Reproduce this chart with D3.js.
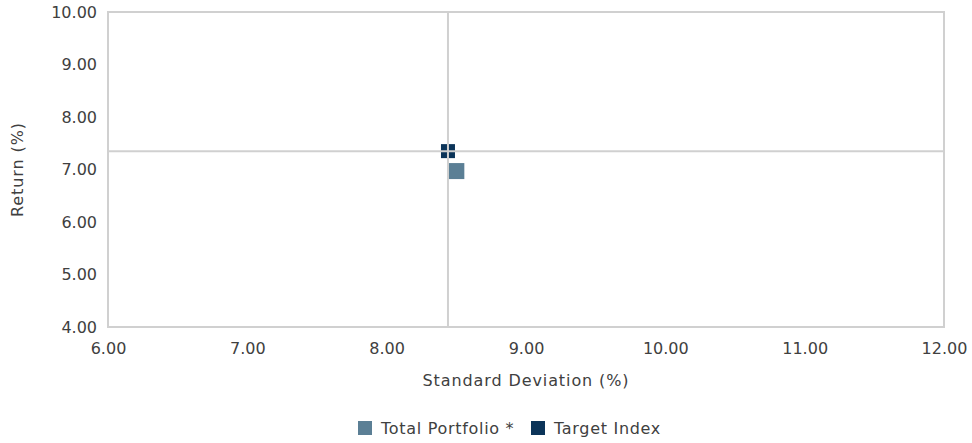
<!DOCTYPE html>
<html><head><meta charset="utf-8">
<script src="https://cdn.jsdelivr.net/npm/d3@7"></script>
<style>body{margin:0;background:#fff;}svg{display:block;font-family:"DejaVu Sans",sans-serif;}</style>
</head><body>
<script>
const seriesNames = ["Total Portfolio *", "Target Index"];
const stdDev = [8.50, 8.44];
const returns = [6.97, 7.35];
const colors = ["#5b7f95", "#0b3459"];
const markerSizes = [16, 14];
const xTicks = [6, 7, 8, 9, 10, 11, 12];
const yTicks = [4, 5, 6, 7, 8, 9, 10];
const crossX = 8.44, crossY = 7.35;

const W = 972, H = 443;
const m = {l: 108, r: 28, t: 12, b: 116};
const FONT = "DejaVu Sans, sans-serif";
const svg = d3.select("body").append("svg").attr("width", W).attr("height", H);
const x = d3.scaleLinear().domain([6, 12]).range([m.l, W - m.r]);
const y = d3.scaleLinear().domain([4, 10]).range([H - m.b, m.t]);
const grid = "#d0d0d0";
const txt = "#404040";

svg.append("rect").attr("x", x(6)).attr("y", y(10)).attr("width", x(12) - x(6)).attr("height", y(4) - y(10))
  .attr("fill", "none").attr("stroke", grid).attr("stroke-width", 2);

const xa = svg.append("g").attr("transform", `translate(0,${y(4)})`)
  .call(d3.axisBottom(x).tickValues(xTicks).tickFormat(d3.format(".2f")).tickSize(0).tickPadding(16));
const ya = svg.append("g").attr("transform", `translate(${x(6)},0)`)
  .call(d3.axisLeft(y).tickValues(yTicks).tickFormat(d3.format(".2f")).tickSize(0).tickPadding(11));
[xa, ya].forEach(a => { a.select(".domain").remove(); a.selectAll("text").attr("fill", txt).style("font-size", "16px").style("font-family", FONT); });

const pts = seriesNames.map((n, i) => ({n, sx: stdDev[i], r: returns[i], c: colors[i], s: markerSizes[i]}));
svg.selectAll("rect.pt").data(pts).join("rect").attr("class", "pt")
  .attr("x", d => x(d.sx) - d.s / 2).attr("y", d => y(d.r) - d.s / 2)
  .attr("width", d => d.s).attr("height", d => d.s).attr("fill", d => d.c);

svg.append("line").attr("x1", x(crossX)).attr("x2", x(crossX)).attr("y1", y(10)).attr("y2", y(4)).attr("stroke", grid).attr("stroke-width", 2);
svg.append("line").attr("x1", x(6)).attr("x2", x(12)).attr("y1", y(crossY)).attr("y2", y(crossY)).attr("stroke", grid).attr("stroke-width", 2);

svg.append("text").attr("x", (x(6) + x(12)) / 2).attr("y", 386).attr("text-anchor", "middle")
  .attr("fill", txt).style("font-size", "16px").style("letter-spacing", "0.9px").text("Standard Deviation (%)");
svg.append("text").attr("transform", `translate(23,${(y(4) + y(10)) / 2}) rotate(-90)`).attr("text-anchor", "middle")
  .attr("fill", txt).style("font-size", "16px").style("letter-spacing", "0.9px").text("Return (%)");

const lg = svg.append("g");
const items = [{n: seriesNames[0], c: colors[0], x: 358}, {n: seriesNames[1], c: colors[1], x: 531}];
items.forEach(it => {
  lg.append("rect").attr("x", it.x).attr("y", 421).attr("width", 14).attr("height", 14).attr("fill", it.c);
  lg.append("text").attr("x", it.x + 23).attr("y", 434).attr("fill", txt).style("font-size", "16px").style("letter-spacing", "0.7px").text(it.n);
});
</script>
</body></html>
